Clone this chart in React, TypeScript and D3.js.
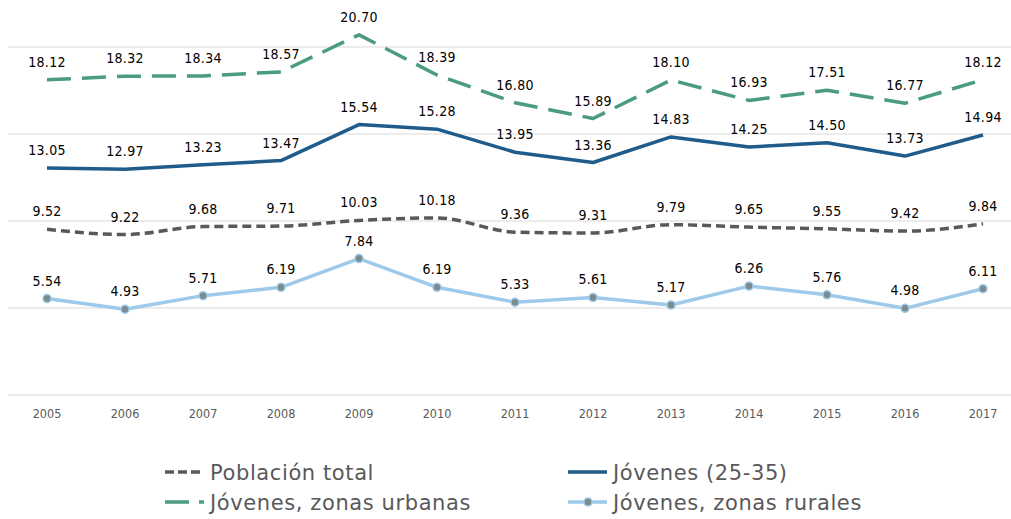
import * as d3 from "d3";
import React, { useEffect, useRef } from "react";

const years = ["2005", "2006", "2007", "2008", "2009", "2010", "2011", "2012", "2013", "2014", "2015", "2016", "2017"];
const poblacionTotal = [9.52, 9.22, 9.68, 9.71, 10.03, 10.18, 9.36, 9.31, 9.79, 9.65, 9.55, 9.42, 9.84];
const jovenes = [13.05, 12.97, 13.23, 13.47, 15.54, 15.28, 13.95, 13.36, 14.83, 14.25, 14.5, 13.73, 14.94];
const jovenesUrbanas = [18.12, 18.32, 18.34, 18.57, 20.7, 18.39, 16.8, 15.89, 18.1, 16.93, 17.51, 16.77, 18.12];
const jovenesRurales = [5.54, 4.93, 5.71, 6.19, 7.84, 6.19, 5.33, 5.61, 5.17, 6.26, 5.76, 4.98, 6.11];
const yTicks = [0, 5, 10, 15, 20];

const App = () => {
  const svgRef = useRef<SVGSVGElement>(null);

  useEffect(() => {
    const w = 1011;
    const h = 519;
    const svg = d3.select(svgRef.current).attr("width", w).attr("height", h);
    svg.selectAll("*").remove();

    const font = "'DejaVu Sans', Verdana, sans-serif";
    const condensed = "'DejaVu Sans Condensed', 'DejaVu Sans', sans-serif";

    const x = d3.scaleBand().domain(years).range([8, 1022]);
    const cx = (d: string) => (x(d) as number) + x.bandwidth() / 2;
    const y = d3.scaleLinear().domain([0, 20]).range([395, 47]);

    // grid
    svg.append("g")
      .selectAll("line")
      .data(yTicks)
      .enter()
      .append("line")
      .attr("x1", 8)
      .attr("x2", w)
      .attr("y1", d => y(d))
      .attr("y2", d => y(d))
      .attr("stroke", "#d9d9d9")
      .attr("stroke-width", 1);

    // x axis labels
    svg.append("g")
      .selectAll("text")
      .data(years)
      .enter()
      .append("text")
      .attr("x", d => cx(d))
      .attr("y", 418)
      .attr("text-anchor", "middle")
      .attr("font-family", condensed)
      .attr("font-size", "12.5px")
      .attr("fill", "#595959")
      .text(d => d);

    const series = [
      { name: "Población total", values: poblacionTotal, color: "#595959", dash: "9,5", curve: d3.curveMonotoneX, marker: false },
      { name: "Jóvenes (25-35)", values: jovenes, color: "#1f5c8b", dash: null, curve: d3.curveLinear, marker: false },
      { name: "Jóvenes, zonas urbanas", values: jovenesUrbanas, color: "#4a9b7f", dash: "24,11", curve: d3.curveLinear, marker: false },
      { name: "Jóvenes, zonas rurales", values: jovenesRurales, color: "#9dc9ea", dash: null, curve: d3.curveLinear, marker: true },
    ];

    series.forEach(s => {
      const line = d3.line<number>()
        .x((_, i) => cx(years[i]))
        .y(d => y(d))
        .curve(s.curve);

      svg.append("path")
        .datum(s.values)
        .attr("d", line)
        .attr("fill", "none")
        .attr("stroke", s.color)
        .attr("stroke-width", 3.5)
        .attr("stroke-dasharray", s.dash)
        .attr("stroke-linejoin", "round");

      if (s.marker) {
        svg.append("g")
          .selectAll("circle")
          .data(s.values)
          .enter()
          .append("circle")
          .attr("cx", (_, i) => cx(years[i]))
          .attr("cy", d => y(d))
          .attr("r", 4)
          .attr("fill", "#7b8b8e")
          .attr("stroke", s.color)
          .attr("stroke-width", 1.5);
      }

      // etiquetas de datos
      svg.append("g")
        .selectAll("text")
        .data(s.values)
        .enter()
        .append("text")
        .attr("x", (_, i) => cx(years[i]))
        .attr("y", d => y(d) - 13)
        .attr("text-anchor", "middle")
        .attr("font-family", condensed)
        .attr("font-size", "14px")
        .attr("letter-spacing", "0.3px")
        .attr("fill", "#000")
        .text(d => d.toFixed(2));
    });

    // legend
    const legendPos = [
      { sx: 165, ty: 472 },
      { sx: 568, ty: 472 },
      { sx: 165, ty: 502 },
      { sx: 568, ty: 502 },
    ];
    series.forEach((s, i) => {
      const p = legendPos[i];
      const g = svg.append("g");
      g.append("line")
        .attr("x1", p.sx)
        .attr("x2", p.sx + 39)
        .attr("y1", p.ty)
        .attr("y2", p.ty)
        .attr("stroke", s.color)
        .attr("stroke-width", 3.5)
        .attr("stroke-dasharray", s.dash ? (i === 0 ? "9,4" : "24,10") : null);
      if (s.marker) {
        g.append("circle")
          .attr("cx", p.sx + 20)
          .attr("cy", p.ty)
          .attr("r", 4)
          .attr("fill", "#7b8b8e")
          .attr("stroke", s.color)
          .attr("stroke-width", 1.5);
      }
      g.append("text")
        .attr("x", p.sx + 45)
        .attr("y", p.ty + 7.5)
        .attr("font-family", font)
        .attr("font-size", "21px")
        .attr("letter-spacing", "0.6px")
        .attr("fill", "#595959")
        .text(s.name);
    });
  }, []);

  return <svg ref={svgRef} style={{ position: "absolute", left: 0, top: 0 }}></svg>;
};

export default App;
